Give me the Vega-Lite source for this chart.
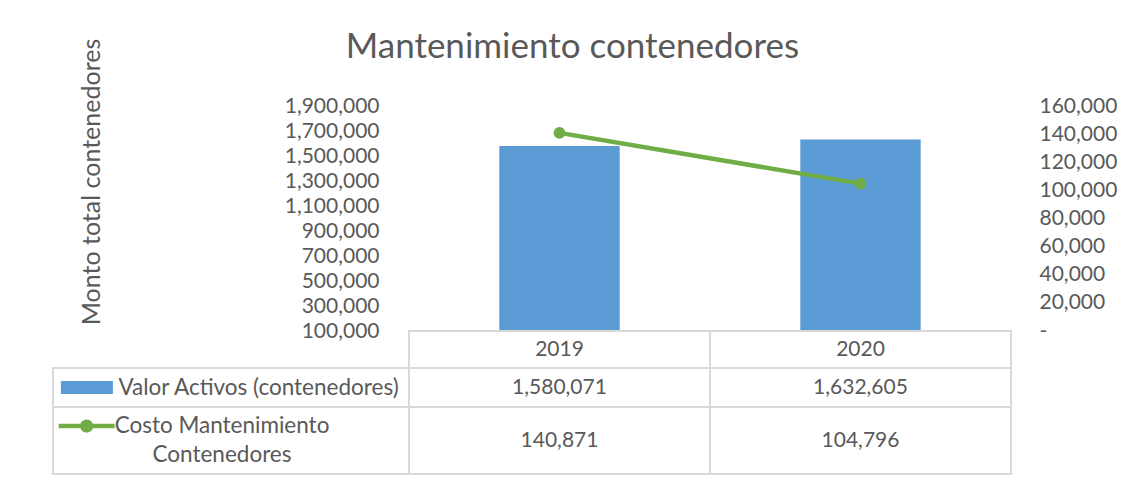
{
  "$schema": "https://vega.github.io/schema/vega-lite/v6.json",
  "background": "white",
  "padding": {"left": 52, "top": 30, "right": 5, "bottom": 5},
  "title": {
    "text": "Mantenimiento contenedores",
    "font": "Lato",
    "fontSize": 35,
    "fontWeight": "normal",
    "color": "#595959",
    "anchor": "middle",
    "frame": "bounds",
    "offset": -27,
    "dx": -12
  },
  "datasets": {
    "t": [
      {"year": "2019", "series": "Valor Activos (contenedores)", "value": 1580071},
      {"year": "2020", "series": "Valor Activos (contenedores)", "value": 1632605},
      {"year": "2019", "series": "Costo Mantenimiento Contenedores", "value": 140871},
      {"year": "2020", "series": "Costo Mantenimiento Contenedores", "value": 104796}
    ]
  },
  "data": {"name": "t"},
  "columns": 2,
  "spacing": 0,
  "bounds": "flush",
  "resolve": {"scale": {"x": "independent", "y": "independent"}},
  "concat": [
    {
      "width": 356, "height": 225,
      "data": {"values": []},
      "mark": "point",
      "encoding": {}
    },
    {
      "width": 602, "height": 225,
      "layer": [
        {
          "transform": [{"filter": "datum.series == 'Valor Activos (contenedores)'"}],
          "mark": {"type": "bar", "color": "#5b9bd5", "clip": true},
          "encoding": {
            "x": {"field": "year", "type": "ordinal", "scale": {"paddingInner": 0.6, "paddingOuter": 0.3}, "axis": null},
            "y": {
              "field": "value", "type": "quantitative",
              "scale": {"domain": [100000, 1900000], "zero": false, "nice": false},
              "axis": {
                "orient": "left",
                "values": [100000, 300000, 500000, 700000, 900000, 1100000, 1300000, 1500000, 1700000, 1900000],
                "labelExpr": "format(datum.value, ',')",
                "grid": false, "domain": false, "ticks": false, "tickSize": 0,
                "labelPadding": 30, "labelFontSize": 21, "labelColor": "#595959", "labelFont": "Lato",
                "title": "Monto total contenedores",
                "titleFont": "Lato", "titleFontSize": 25, "titleFontWeight": "normal", "titleColor": "#595959",
                "titleX": -318, "titleY": 75.5, "titleAngle": -90, "titleAlign": "center", "titleBaseline": "middle"
              }
            }
          }
        },
        {
          "transform": [{"filter": "datum.series == 'Costo Mantenimiento Contenedores'"}],
          "mark": {"type": "line", "color": "#70ad47", "strokeWidth": 4.5, "point": {"filled": true, "size": 140, "color": "#70ad47", "opacity": 1}},
          "encoding": {
            "x": {"field": "year", "type": "ordinal", "axis": null},
            "y": {
              "field": "value", "type": "quantitative",
              "scale": {"domain": [0, 160000], "nice": false},
              "axis": {
                "orient": "right",
                "values": [0, 20000, 40000, 60000, 80000, 100000, 120000, 140000, 160000],
                "labelExpr": "datum.value === 0 ? '-' : format(datum.value, ',')",
                "grid": false, "domain": false, "ticks": false, "tickSize": 0,
                "labelPadding": 28, "labelFontSize": 21, "labelColor": "#595959", "labelFont": "Lato",
                "title": null
              }
            }
          }
        }
      ],
      "resolve": {"scale": {"y": "independent"}}
    },
    {
      "width": 356, "height": 37,
      "data": {"values": []},
      "mark": "point",
      "encoding": {}
    },
    {
      "width": 602, "height": 37,
      "view": {"stroke": "#d9d9d9", "strokeWidth": 2},
      "transform": [{"filter": "datum.series == 'Valor Activos (contenedores)'"}],
      "layer": [
        {
          "mark": {"type": "rule", "color": "#d9d9d9", "strokeWidth": 2},
          "encoding": {"x": {"field": "year", "type": "ordinal", "bandPosition": 0, "scale": {"paddingInner": 0, "paddingOuter": 0}, "axis": null}}
        },
        {
          "mark": {"type": "text", "fontSize": 21, "color": "#595959", "font": "Lato"},
          "encoding": {"x": {"field": "year", "type": "ordinal", "axis": null}, "text": {"field": "year"}}
        }
      ]
    },
    {
      "width": 356, "height": 39,
      "view": {"stroke": "#d9d9d9", "strokeWidth": 2},
      "transform": [{"filter": "datum.series == 'Valor Activos (contenedores)' && datum.year == '2019'"}],
      "layer": [
        {
          "mark": {"type": "point", "shape": "M-1,-0.25H1V0.25H-1Z", "filled": true, "size": 2704, "color": "#5b9bd5", "opacity": 1},
          "encoding": {"x": {"datum": "key", "type": "nominal", "scale": {"type": "point", "domain": ["key", "label"], "padding": 0.537, "align": 0.1838}, "axis": null}}
        },
        {
          "mark": {"type": "text", "align": "center", "baseline": "middle", "fontSize": 22.5, "color": "#595959", "font": "Lato"},
          "encoding": {"x": {"datum": "label", "type": "nominal", "axis": null}, "text": {"field": "series"}}
        }
      ]
    },
    {
      "width": 602, "height": 39,
      "view": {"stroke": "#d9d9d9", "strokeWidth": 2},
      "transform": [{"filter": "datum.series == 'Valor Activos (contenedores)'"}],
      "layer": [
        {
          "mark": {"type": "rule", "color": "#d9d9d9", "strokeWidth": 2},
          "encoding": {"x": {"field": "year", "type": "ordinal", "bandPosition": 0, "scale": {"paddingInner": 0, "paddingOuter": 0}, "axis": null}}
        },
        {
          "mark": {"type": "text", "fontSize": 21, "color": "#595959", "font": "Lato"},
          "encoding": {"x": {"field": "year", "type": "ordinal", "axis": null}, "text": {"field": "value", "type": "quantitative", "format": ","}}
        }
      ]
    },
    {
      "width": 356, "height": 67,
      "view": {"stroke": "#d9d9d9", "strokeWidth": 2},
      "transform": [
        {"filter": "datum.series == 'Costo Mantenimiento Contenedores' && datum.year == '2019'"},
        {"calculate": "replace(datum.series, ' Contenedores', '\\nContenedores')", "as": "label"}
      ],
      "layer": [
        {
          "mark": {"type": "point", "shape": "M-1,-0.08H1V0.08H-1Z M0.236,0A0.236,0.236 0 1 1 -0.236,0A0.236,0.236 0 1 1 0.236,0Z", "filled": true, "size": 3136, "color": "#70ad47", "opacity": 1},
          "encoding": {
            "x": {"datum": "key", "type": "nominal", "scale": {"type": "point", "domain": ["key", "label"], "padding": 0.8156, "align": 0.1527}, "axis": null},
            "y": {"datum": "key", "type": "nominal", "scale": {"type": "point", "domain": ["key"], "padding": 0, "align": 0.2836}, "axis": null}
          }
        },
        {
          "mark": {"type": "text", "align": "center", "baseline": "middle", "lineBreak": "\n", "lineHeight": 29, "fontSize": 22.5, "color": "#595959", "font": "Lato"},
          "encoding": {
            "x": {"datum": "label", "type": "nominal", "axis": null},
            "y": {"datum": "key", "type": "nominal", "axis": null},
            "text": {"field": "label"}
          }
        }
      ]
    },
    {
      "width": 602, "height": 67,
      "view": {"stroke": "#d9d9d9", "strokeWidth": 2},
      "transform": [{"filter": "datum.series == 'Costo Mantenimiento Contenedores'"}],
      "layer": [
        {
          "mark": {"type": "rule", "color": "#d9d9d9", "strokeWidth": 2},
          "encoding": {"x": {"field": "year", "type": "ordinal", "bandPosition": 0, "scale": {"paddingInner": 0, "paddingOuter": 0}, "axis": null}}
        },
        {
          "mark": {"type": "text", "fontSize": 21, "color": "#595959", "font": "Lato"},
          "encoding": {"x": {"field": "year", "type": "ordinal", "axis": null}, "text": {"field": "value", "type": "quantitative", "format": ","}}
        }
      ]
    }
  ],
  "config": {
    "view": {"stroke": null},
    "font": "Lato"
  }
}
